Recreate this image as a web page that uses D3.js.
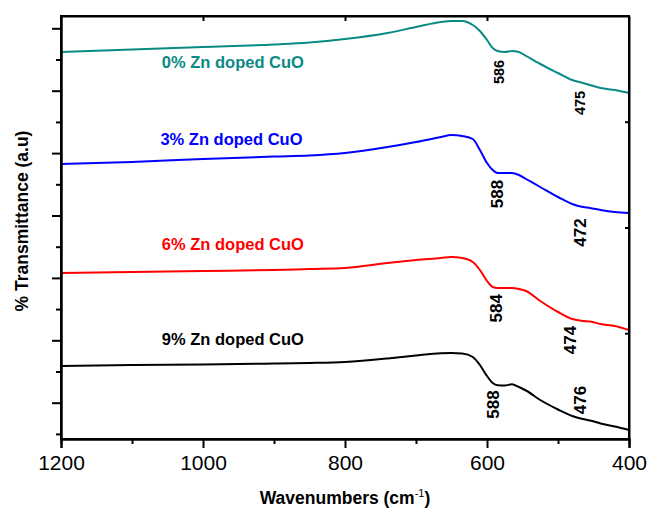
<!DOCTYPE html>
<html>
<head>
<meta charset="utf-8">
<script src="https://cdn.jsdelivr.net/npm/d3@7"></script>
<style>
  body { margin: 0; background: #fff; }
  svg { display: block; font-family: "Liberation Sans", Arial, sans-serif; }
  .axis path, .axis line { stroke: #000; stroke-width: 2; }
  .axis text { fill: #000; font-size: 21px; }
</style>
</head>
<body>
<div id="chart"></div>
<script>
// wavenumbers shared by all four spectra (cm-1)
const wavenumbers = [1200, 1100, 1000, 900, 850, 800, 740, 700, 665, 650, 635, 620, 610, 600,
  592, 585, 575, 565, 555, 545, 525, 500, 480, 465, 455, 440, 420, 400];

// transmittance, arbitrary units (curves are offset vertically)
const zn0 = [38.7, 38.95, 39.2, 39.45, 39.65, 40.0, 40.6, 41.2, 41.7, 41.8, 41.8, 41.4, 40.8, 39.9,
  39.1, 38.8, 38.7, 38.8, 38.7, 38.3, 37.5, 36.6, 35.9, 35.6, 35.4, 35.1, 34.9, 34.6];
const zn3 = [27.5, 27.7, 28.0, 28.25, 28.35, 28.6, 29.2, 29.7, 30.2, 30.4, 30.3, 30.0, 28.9, 27.6,
  26.9, 26.6, 26.6, 26.6, 26.4, 26.0, 25.2, 24.2, 23.5, 23.2, 23.1, 22.9, 22.7, 22.6];
const zn6 = [16.6, 16.7, 16.8, 16.9, 17.0, 17.1, 17.6, 17.9, 18.1, 18.2, 18.1, 17.7, 16.9, 15.8,
  15.2, 15.1, 15.1, 15.1, 15.0, 14.8, 13.8, 12.7, 12.0, 11.8, 11.75, 11.5, 11.3, 10.9];
const zn9 = [7.3, 7.4, 7.45, 7.55, 7.6, 7.7, 8.05, 8.35, 8.57, 8.6, 8.55, 8.2, 7.4, 6.3,
  5.6, 5.37, 5.35, 5.47, 5.2, 4.85, 3.9, 2.95, 2.3, 2.0, 1.85, 1.55, 1.25, 0.9];

const seriesNames = ['0% Zn doped CuO', '3% Zn doped CuO', '6% Zn doped CuO', '9% Zn doped CuO'];
const seriesColors = ['#0a8a84', '#0000ff', '#ff0000', '#000000'];
// where each name sits: wavenumber of its left edge, level of its baseline
const nameWn = [1058, 1060, 1058, 1058];
const nameLevel = [37.1, 29.4, 18.9, 9.4];

// band positions marked on each curve
const peakText = ['586', '475', '588', '472', '584', '474', '588', '476'];
const peakWn = [583, 469, 585, 469, 587, 482, 591, 468];
const peakLevel = [36.7, 33.6, 24.5, 20.65, 13.07, 9.9, 3.45, 3.9];
const peakSeries = [0, 0, 1, 1, 2, 2, 3, 3];

const xMajor = [1200, 1000, 800, 600, 400];
const xMinor = [1100, 900, 700, 500];
const xTop = [1000, 800, 600];
const yMajor = [41.07, 34.83, 28.59, 22.35, 16.11, 9.87, 3.63];
const yMinor = [37.95, 31.71, 25.47, 19.23, 12.99, 6.75, 0.51];
const yRight = [10.58, 21.15, 31.73];

const width = 650, height = 508;
const margin = {top: 16, right: 21, bottom: 69, left: 61};

let svg = d3.select('#chart').append('svg')
  .attr('width', width)
  .attr('height', height);

svg.append('rect').attr('width', width).attr('height', height).attr('fill', '#fff');

let x = d3.scaleLinear()
  .domain([1200, 400])
  .range([margin.left, width - margin.right]);

let y = d3.scaleLinear()
  .domain([0, 42.3])
  .range([height - margin.bottom, margin.top]);

const spectra = [zn0, zn3, zn6, zn9];

let line = d3.line()
  .x((d, i) => x(wavenumbers[i]))
  .y(d => y(d))
  .curve(d3.curveMonotoneX);

svg.append('g')
  .selectAll('path')
  .data(spectra)
  .join('path')
  .attr('fill', 'none')
  .attr('stroke', (d, i) => seriesColors[i])
  .attr('stroke-width', 2)
  .attr('d', line);

// axes
let bottom = height - margin.bottom;
let right = width - margin.right;

svg.append('g')
  .attr('class', 'axis')
  .attr('transform', `translate(0,${bottom})`)
  .call(d3.axisBottom(x).tickValues(xMajor).tickSize(9).tickPadding(7).tickFormat(d3.format('d')));

svg.append('g')
  .attr('class', 'axis')
  .attr('transform', `translate(0,${bottom})`)
  .call(d3.axisBottom(x).tickValues(xMinor).tickSize(5).tickFormat(''));

svg.append('g')
  .attr('class', 'axis')
  .attr('transform', `translate(0,${margin.top})`)
  .call(d3.axisBottom(x).tickValues(xTop).tickSize(5).tickSizeOuter(0).tickFormat(''));

svg.append('g')
  .attr('class', 'axis')
  .attr('transform', `translate(${margin.left},0)`)
  .call(d3.axisLeft(y).tickValues(yMajor).tickSize(9).tickSizeOuter(0).tickFormat(''));

svg.append('g')
  .attr('class', 'axis')
  .attr('transform', `translate(${margin.left},0)`)
  .call(d3.axisLeft(y).tickValues(yMinor).tickSize(5).tickSizeOuter(0).tickFormat(''));

svg.append('g')
  .attr('class', 'axis')
  .attr('transform', `translate(${right},0)`)
  .call(d3.axisRight(y).tickValues(yRight).tickSize(-4).tickSizeOuter(0).tickFormat(''));

svg.append('rect')
  .attr('x', margin.left)
  .attr('y', margin.top)
  .attr('width', right - margin.left)
  .attr('height', bottom - margin.top)
  .attr('fill', 'none')
  .attr('stroke', '#000')
  .attr('stroke-width', 2);

// series names
svg.append('g')
  .selectAll('text')
  .data(seriesNames)
  .join('text')
  .attr('x', (d, i) => x(nameWn[i]))
  .attr('y', (d, i) => y(nameLevel[i]))
  .attr('fill', (d, i) => seriesColors[i])
  .attr('font-size', '16.5px')
  .attr('font-weight', 'bold')
  .text(d => d);

// band labels, rotated
svg.append('g')
  .selectAll('text')
  .data(peakText)
  .join('text')
  .attr('transform', (d, i) => `translate(${x(peakWn[i])},${y(peakLevel[i])}) rotate(-90)`)
  .attr('text-anchor', 'middle')
  .attr('dominant-baseline', 'central')
  .attr('font-size', (d, i) => peakSeries[i] === 0 ? '14.5px' : '17px')
  .attr('font-weight', 'bold')
  .attr('fill', '#000')
  .text(d => d);

// axis titles
let xTitle = svg.append('text')
  .attr('x', 345)
  .attr('y', 504)
  .attr('text-anchor', 'middle')
  .attr('font-size', '17.5px')
  .attr('font-weight', 'bold');
xTitle.append('tspan').text('Wavenumbers (cm');
xTitle.append('tspan').attr('dy', -7).attr('font-size', '11px').attr('font-weight', 'normal').text('-1');
xTitle.append('tspan').attr('dy', 7).text(')');

svg.append('text')
  .attr('transform', 'translate(28,221) rotate(-90)')
  .attr('text-anchor', 'middle')
  .attr('font-size', '17.5px')
  .attr('font-weight', 'bold')
  .text('% Transmittance (a.u)');
</script>
</body>
</html>
